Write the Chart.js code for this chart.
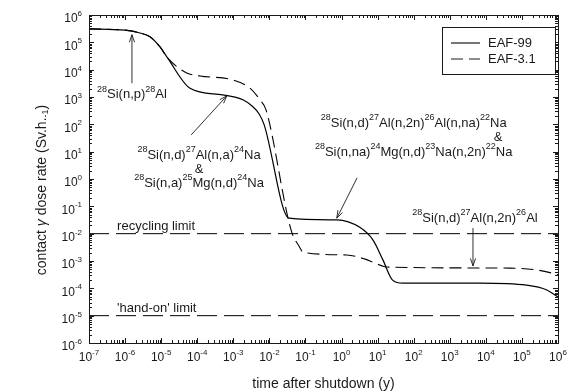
<!DOCTYPE html>
<html>
<head>
<meta charset="utf-8">
<script src="https://cdn.jsdelivr.net/npm/chart.js@4/dist/chart.umd.min.js"></script>
<style>
  html, body { margin: 0; padding: 0; background: #fff; }
</style>
</head>
<body>
<canvas id="myChart" width="568" height="392"></canvas>
<script>
// time after shutdown (y) and contact dose rate (Sv/h)
var eaf99Time = [1e-7, 1e-6, 2.6e-6, 4.9e-6, 9.3e-6, 1.5e-5, 6.3e-5, 5.1e-4, 1.9e-3, 3.3e-3, 5.2e-3, 7.1e-3, 3.5e-2, 0.74, 3.2, 7.4, 14, 26, 50, 6800, 1.35e5, 4.9e5, 1e6];
var eaf99Dose = [3.1e5, 2.8e5, 2.2e5, 1.6e5, 6.8e4, 2.7e4, 2.1e3, 1.2e3, 780, 470, 240, 100, 3.7e-2, 3.2e-2, 1.7e-2, 5.9e-3, 1.1e-3, 2.0e-4, 1.55e-4, 1.55e-4, 1.3e-4, 8.7e-5, 4.8e-5];

var eaf31Time = [1e-7, 1e-6, 2.6e-6, 4.9e-6, 9.3e-6, 1.5e-5, 5.1e-5, 1.2e-4, 9.8e-4, 2.9e-3, 5.5e-3, 8.1e-3, 4.0e-2, 6.9e-2, 8.5e-2, 1.4, 4.5, 8.3, 19, 4.6e4, 2.6e5, 6.8e5, 1e6];
var eaf31Dose = [3.1e5, 2.8e5, 2.2e5, 1.6e5, 6.8e4, 2.7e4, 7.6e3, 5.9e3, 4.2e3, 2.1e3, 780, 330, 1.35e-2, 3.2e-3, 2.1e-3, 1.66e-3, 1.17e-3, 8.5e-4, 6.0e-4, 5.5e-4, 4.7e-4, 3.6e-4, 3.1e-4];

var limitNames = ['recycling limit', "'hand-on' limit"];
var limitDose = [1e-2, 1e-5];

var xDecades = [-7, -6, -5, -4, -3, -2, -1, 0, 1, 2, 3, 4, 5, 6];
var yDecades = [-6, -5, -4, -3, -2, -1, 0, 1, 2, 3, 4, 5, 6];

var FONT = '"Liberation Sans", Arial, Helvetica, sans-serif';
var INK = '#1a1a1a';

// annotation texts (^nn = superscript) with anchor in data units
var notes = [
  { lines: ['^28Si(n,p)^28Al'], x: 1.55e-6, y: 1.2e3, gap: 0,
    arrow: [1.55e-6, 3.2e3, 1.55e-6, 1.9e5] },
  { lines: ['^28Si(n,d)^27Al(n,a)^24Na', '&', '^28Si(n,a)^25Mg(n,d)^24Na'], x: 1.12e-4, y: 7.6, gap: 14,
    arrow: [6.8e-5, 41, 6.6e-4, 1.1e3] },
  { lines: ['^28Si(n,d)^27Al(n,2n)^26Al(n,na)^22Na', '&', '^28Si(n,na)^24Mg(n,d)^23Na(n,2n)^22Na'], x: 100, y: 112, gap: 14.5,
    arrow: [2.7, 1.1, 0.74, 3.7e-2] },
  { lines: ['^28Si(n,d)^27Al(n,2n)^26Al'], x: 5000, y: 3.7e-2, gap: 0,
    arrow: [4400, 1.6e-2, 4400, 6.6e-4] }
];

function fontFor(kind, size) {
  if (kind === 'sup' || kind === 'sub') return Math.round(size * 0.66) + 'px ' + FONT;
  if (kind === 'it') return 'italic ' + size + 'px ' + FONT;
  return size + 'px ' + FONT;
}

function parseRich(s) {
  var parts = [], re = /\^([\-0-9]+)/g, last = 0, m;
  while ((m = re.exec(s))) {
    if (m.index > last) parts.push([s.slice(last, m.index), 'n']);
    parts.push([m[1], 'sup']);
    last = re.lastIndex;
  }
  if (last < s.length) parts.push([s.slice(last), 'n']);
  return parts;
}

function drawParts(ctx, parts, x, y, align, size) {
  var w = 0;
  parts.forEach(function (p) { ctx.font = fontFor(p[1], size); w += ctx.measureText(p[0]).width; });
  var cx = align === 'center' ? x - w / 2 : (align === 'right' ? x - w : x);
  ctx.textAlign = 'left';
  parts.forEach(function (p) {
    ctx.font = fontFor(p[1], size);
    var dy = p[1] === 'sup' ? -size * 0.42 : (p[1] === 'sub' ? size * 0.28 : 0);
    ctx.fillText(p[0], cx, y + dy);
    cx += ctx.measureText(p[0]).width;
  });
  return w;
}

function arrow(ctx, x1, y1, x2, y2) {
  var a = Math.atan2(y2 - y1, x2 - x1), h = 8, s = 0.33;
  ctx.beginPath();
  ctx.moveTo(x1, y1);
  ctx.lineTo(x2, y2);
  ctx.moveTo(x2 - h * Math.cos(a - s), y2 - h * Math.sin(a - s));
  ctx.lineTo(x2, y2);
  ctx.lineTo(x2 - h * Math.cos(a + s), y2 - h * Math.sin(a + s));
  ctx.stroke();
}

function zip(xs, ys) {
  return xs.map(function (x, i) { return { x: x, y: ys[i] }; });
}

var decor = {
  id: 'decor',
  afterDraw: function (chart) {
    var ctx = chart.ctx, a = chart.chartArea;
    var sx = chart.scales.x, sy = chart.scales.y;
    ctx.save();
    ctx.strokeStyle = INK;
    ctx.fillStyle = INK;
    ctx.lineWidth = 1;

    // frame
    ctx.strokeRect(Math.round(a.left) + 0.5, Math.round(a.top) + 0.5,
                   Math.round(a.right - a.left), Math.round(a.bottom - a.top));

    // inward ticks on all four sides
    ctx.beginPath();
    xDecades.forEach(function (n) {
      for (var k = 1; k <= 9; k++) {
        if (n === 6 && k > 1) break;
        var px = Math.round(sx.getPixelForValue(k * Math.pow(10, n))) + 0.5;
        var len = k === 1 ? 5 : 3;
        ctx.moveTo(px, a.bottom); ctx.lineTo(px, a.bottom - len);
        ctx.moveTo(px, a.top); ctx.lineTo(px, a.top + len);
      }
    });
    yDecades.forEach(function (n) {
      for (var k = 1; k <= 9; k++) {
        if (n === 6 && k > 1) break;
        var py = Math.round(sy.getPixelForValue(k * Math.pow(10, n))) + 0.5;
        var len = k === 1 ? 5 : 3;
        ctx.moveTo(a.left, py); ctx.lineTo(a.left + len, py);
        ctx.moveTo(a.right, py); ctx.lineTo(a.right - len, py);
      }
    });
    ctx.stroke();

    // tick labels
    ctx.textBaseline = 'middle';
    xDecades.forEach(function (n) {
      drawParts(ctx, [['10', 'n'], [String(n), 'sup']], sx.getPixelForValue(Math.pow(10, n)), a.bottom + 15, 'center', 12);
    });
    yDecades.forEach(function (n) {
      drawParts(ctx, [['10', 'n'], [String(n), 'sup']], a.left - 7, sy.getPixelForValue(Math.pow(10, n)) + 4, 'right', 12);
    });

    // axis titles
    drawParts(ctx, [['time after shutdown (y)', 'n']], (a.left + a.right) / 2, a.bottom + 41, 'center', 14);
    ctx.save();
    ctx.translate(42, 190);
    ctx.rotate(-Math.PI / 2);
    drawParts(ctx, [['contact ', 'n'], ['\u03b3', 'it'], [' dose rate (Sv.h.', 'n'], ['-1', 'sub'], [')', 'n']], 0, 0, 'center', 14);
    ctx.restore();

    // limit labels
    ctx.textBaseline = 'alphabetic';
    limitNames.forEach(function (name, i) {
      drawParts(ctx, [[name, 'n']], sx.getPixelForValue(6e-7), sy.getPixelForValue(limitDose[i]) - 3.5, 'left', 13);
    });

    // annotations
    ctx.textBaseline = 'middle';
    notes.forEach(function (nt) {
      var cx = sx.getPixelForValue(nt.x), cy = sy.getPixelForValue(nt.y);
      nt.lines.forEach(function (ln, i) {
        var lx = cx;
        if (ln === '&' && nt.lines[0].indexOf('^22Na') >= 0) lx = sx.getPixelForValue(2.2e4);
        drawParts(ctx, parseRich(ln), lx, cy + i * nt.gap, 'center', 13);
      });
      var r = nt.arrow;
      ctx.lineWidth = 0.9;
      arrow(ctx, sx.getPixelForValue(r[0]), sy.getPixelForValue(r[1]), sx.getPixelForValue(r[2]), sy.getPixelForValue(r[3]));
    });

    // legend box
    var bx = a.right - 116, by = a.top + 12, bw = 113, bh = 47;
    ctx.lineWidth = 1;
    ctx.fillStyle = '#fff';
    ctx.fillRect(bx, by, bw, bh);
    ctx.strokeRect(bx + 0.5, by + 0.5, bw, bh);
    ctx.fillStyle = INK;
    chart.data.datasets.slice(0, 2).forEach(function (ds, i) {
      var ly = by + 16 + i * 16;
      ctx.beginPath();
      ctx.lineWidth = ds.borderWidth;
      ctx.setLineDash(ds.borderDash || []);
      ctx.moveTo(bx + 9, ly); ctx.lineTo(bx + 38, ly);
      ctx.stroke();
      ctx.setLineDash([]);
      drawParts(ctx, [[ds.label, 'n']], bx + 46, ly, 'left', 13);
    });
    ctx.restore();
  }
};

var limitSets = limitDose.map(function (d, i) {
  return {
    label: limitNames[i],
    data: [{ x: 1e-7, y: d }, { x: 1e6, y: d }],
    borderColor: '#000',
    borderWidth: 1,
    borderDash: [20, 7],
    pointRadius: 0
  };
});

var ctx = document.getElementById('myChart').getContext('2d');
var chart = new Chart(ctx, {
  type: 'line',
  data: {
    datasets: [{
      label: 'EAF-99',
      data: zip(eaf99Time, eaf99Dose),
      borderColor: '#000',
      borderWidth: 1.2,
      cubicInterpolationMode: 'monotone',
      pointRadius: 0
    }, {
      label: 'EAF-3.1',
      data: zip(eaf31Time, eaf31Dose),
      borderColor: '#000',
      borderWidth: 1.1,
      borderDash: [12, 6],
      cubicInterpolationMode: 'monotone',
      pointRadius: 0
    }].concat(limitSets)
  },
  options: {
    responsive: false,
    animation: false,
    layout: { padding: { left: 89, right: 10, top: 15, bottom: 49 } },
    plugins: { legend: { display: false }, tooltip: { enabled: false } },
    scales: {
      x: { type: 'logarithmic', min: 1e-7, max: 1e6, display: false },
      y: { type: 'logarithmic', min: 1e-6, max: 1e6, display: false }
    }
  },
  plugins: [decor]
});
</script>
</body>
</html>
